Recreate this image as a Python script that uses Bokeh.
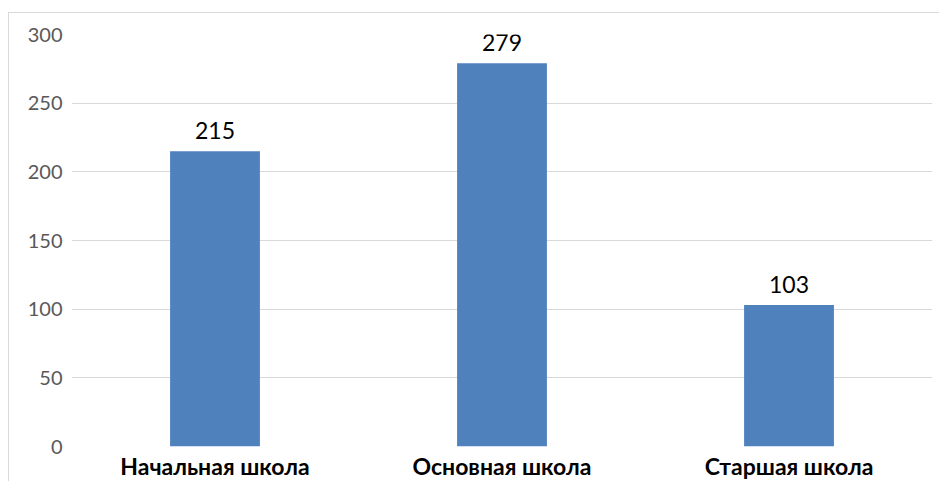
from bokeh.plotting import figure
from bokeh.models import ColumnDataSource, FactorRange, Range1d, FixedTicker
from bokeh.core.properties import value
from bokeh.embed import file_html
from bokeh.resources import INLINE

categories = ["Начальная школа", "Основная школа", "Старшая школа"]
values = [215, 279, 103]
labels = [str(v) for v in values]
y_ticks = [0, 50, 100, 150, 200, 250, 300]

FONT = "Lato"
W, H = 931, 469

src = ColumnDataSource(dict(cat=categories, val=values, lab=labels))

p = figure(
    width=W, height=H,
    x_range=FactorRange(*categories, range_padding=0),
    y_range=Range1d(0, 300),
    output_backend="svg", toolbar_location=None,
    min_border_left=62, min_border_right=8,
    min_border_top=21, min_border_bottom=36,
)
p.styles = {
    "margin-top": "12px",
    "margin-left": "8px",
    "border-top": "1px solid #d9d9d9",
    "border-left": "1px solid #d9d9d9",
}
p.outline_line_color = None
p.background_fill_color = "white"
p.border_fill_color = "white"

p.vbar(x="cat", top="val", width=0.313, source=src,
       fill_color="#4F81BD", line_color=None)

p.text(x="cat", y="val", text="lab", source=src,
       text_font=value(FONT), text_font_size="23px", text_color="#000000",
       text_align="center", text_baseline="alphabetic", y_offset=-21)

p.xgrid.grid_line_color = None
p.ygrid.grid_line_color = "#d9d9d9"
p.ygrid.grid_line_width = 1
p.yaxis.ticker = FixedTicker(ticks=y_ticks)

for ax in (p.xaxis, p.yaxis):
    ax.axis_line_color = None
    ax.major_tick_line_color = None
    ax.minor_tick_line_color = None
    ax.major_tick_out = 0
    ax.major_tick_in = 0

p.yaxis.major_label_text_font = FONT
p.yaxis.major_label_text_font_size = "20px"
p.yaxis.major_label_text_color = "#595959"
p.yaxis.major_label_standoff = 9

p.xaxis.major_label_text_font = FONT
p.xaxis.major_label_text_font_size = "23px"
p.xaxis.major_label_text_font_style = "bold"
p.xaxis.major_label_text_color = "#000000"
p.xaxis.major_label_standoff = 5

open("out.html", "w").write(file_html(p, INLINE))
